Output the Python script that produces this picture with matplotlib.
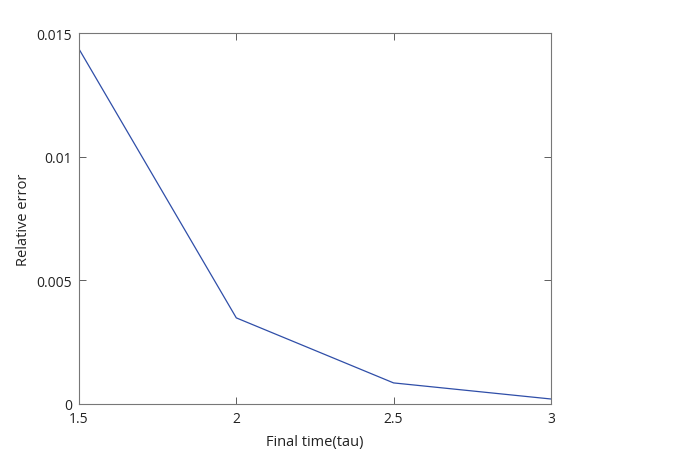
import matplotlib
matplotlib.use("Agg")
import matplotlib.pyplot as plt

plt.rcParams['font.family'] = ['Open Sans', 'DejaVu Sans']

# final time (tau) vs relative error
final_time = [1.5, 2.0, 2.5, 3.0]
rel_error = [0.01435, 0.00348, 0.00085, 0.0002]
xticks = [1.5, 2, 2.5, 3]
xtick_labels = ["1.5", "2", "2.5", "3"]
yticks = [0, 0.005, 0.01, 0.015]
ytick_labels = ["0", "0.005", "0.01", "0.015"]

fig = plt.figure(figsize=(7, 4.56), dpi=100)
ax = fig.add_axes([0.1129, 0.112, 0.674, 0.8134])

ax.plot(final_time, rel_error, color='#2f4ea8', linewidth=0.9)

ax.set_xlim(1.5, 3)
ax.set_ylim(0, 0.015)
ax.set_xticks(xticks)
ax.set_xticklabels(xtick_labels)
ax.set_yticks(yticks)
ax.set_yticklabels(ytick_labels)
ax.tick_params(direction='in', top=True, right=True, length=5, width=0.6,
               color='#444444', labelsize=10, labelcolor='#222222', pad=5)
for s in ax.spines.values():
    s.set_color('#777777')
    s.set_linewidth(0.8)

ax.set_xlabel("Final time(tau)", fontsize=10.5, color='#222222', labelpad=6)
ax.set_ylabel("Relative error", fontsize=10.5, color='#222222', labelpad=4)

fig.savefig("out.png", dpi=100)
